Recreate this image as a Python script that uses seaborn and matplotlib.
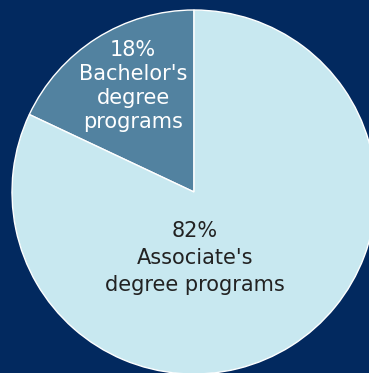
import matplotlib
matplotlib.use("Agg")
import matplotlib.pyplot as plt
import seaborn as sns

# Share of programs by degree level
categories = ["Bachelor's\ndegree\nprograms", "Associate's\ndegree programs"]
shares = [18, 82]

BG = "#02295f"
slice_colors = ["#5282a0", "#c8e8f0"]
text_colors = ["white", "#222222"]

sns.set_theme(style="white")
plt.rcParams["font.family"] = ["DejaVu Sans"]

W, H, DPI = 369, 373, 100
fig = plt.figure(figsize=(W / DPI, H / DPI), dpi=DPI, facecolor=BG)

# pie centre and radius in pixels
cx, cy, r = 194, 192, 182
ax = fig.add_axes([(cx - r) / W, (H - cy - r) / H, 2 * r / W, 2 * r / H])
ax.set_facecolor(BG)

wedges, _ = ax.pie(
    shares,
    colors=slice_colors,
    startangle=90,
    counterclock=True,
    radius=1.0,
    wedgeprops=dict(edgecolor="white", linewidth=1.0),
)
ax.set_xlim(-1, 1)
ax.set_ylim(-1, 1)
ax.set_aspect("equal")
ax.axis("off")

label_pos = [(-0.335, 0.582), (0.005, -0.363)]
spacing = [1.25, 1.45]
for cat, val, (x, y), col, ls in zip(categories, shares, label_pos, text_colors, spacing):
    ax.text(x, y, f"{val}%\n{cat}", ha="center", va="center", color=col,
            fontsize=15, linespacing=ls, multialignment="center")

fig.savefig("out.png", dpi=DPI, facecolor=BG)
